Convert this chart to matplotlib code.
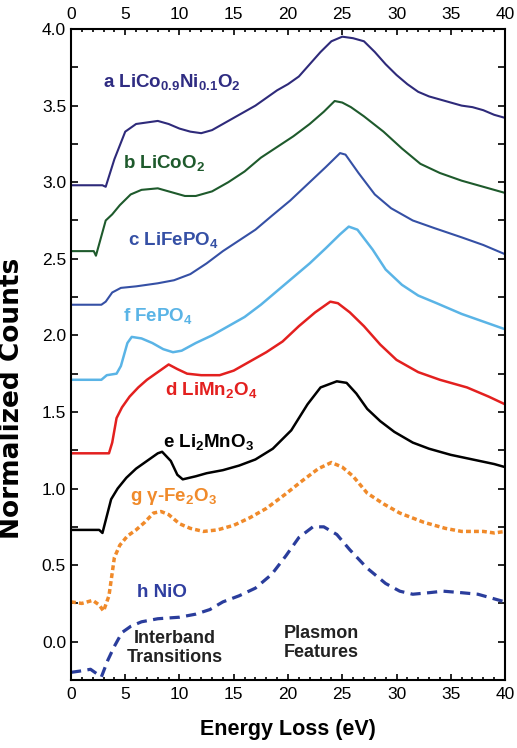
import numpy as np
import matplotlib
matplotlib.use('Agg')
from matplotlib import pyplot as plt
from matplotlib.ticker import MultipleLocator, FuncFormatter

plt.rcParams['font.family'] = ['Liberation Sans', 'DejaVu Sans']
plt.rcParams['mathtext.fontset'] = 'custom'
plt.rcParams['mathtext.rm'] = 'Liberation Sans'
plt.rcParams['mathtext.bf'] = 'Liberation Sans:bold'

# a LiCo0.9Ni0.1O2
a_x = [0, 2.9, 3.2, 4, 5, 6, 7, 8, 9, 10, 11, 12, 13, 14, 15, 16, 17, 18, 19, 20,
       21, 22, 23, 24, 25, 26, 27, 28, 29, 30, 31, 32, 33, 34, 35, 36, 37, 38, 39, 40]
a_y = [2.98, 2.98, 2.97, 3.15, 3.33, 3.38, 3.39, 3.40, 3.38, 3.35, 3.33, 3.32, 3.34, 3.38, 3.42, 3.46, 3.50, 3.55, 3.60, 3.64,
       3.69, 3.77, 3.85, 3.92, 3.95, 3.94, 3.92, 3.85, 3.77, 3.70, 3.64, 3.59, 3.56, 3.54, 3.52, 3.50, 3.49, 3.47, 3.44, 3.42]
# b LiCoO2
b_x = [0, 2.1, 2.3, 3.2, 3.8, 4.5, 5.5, 6.5, 8, 9, 10.5, 11.5, 13, 14.5, 16, 17.5, 19, 20.5, 22, 23.3,
       24.3, 25, 25.8, 27, 28.8, 30.5, 32.2, 34, 36, 38, 40]
b_y = [2.55, 2.55, 2.52, 2.75, 2.79, 2.85, 2.92, 2.95, 2.96, 2.94, 2.91, 2.91, 2.94, 3.00, 3.07, 3.16, 3.23, 3.30, 3.38, 3.46,
       3.53, 3.52, 3.49, 3.43, 3.33, 3.22, 3.12, 3.06, 3.01, 2.97, 2.93]
# c LiFePO4
c_x = [0, 2.8, 3.2, 3.8, 4.6, 6, 8, 9.5, 11, 12.5, 14, 15.5, 17, 18.5, 20.2, 22, 23.5, 24.8, 25.3,
       26.5, 28, 29.5, 31.5, 33.5, 36, 38, 40]
c_y = [2.20, 2.20, 2.22, 2.28, 2.31, 2.32, 2.34, 2.36, 2.40, 2.47, 2.55, 2.62, 2.69, 2.78, 2.88, 3.00, 3.10, 3.19, 3.18,
       3.06, 2.92, 2.83, 2.75, 2.70, 2.64, 2.59, 2.53]
# f FePO4
f_x = [0, 2.8, 3.3, 4.2, 4.6, 5.2, 5.6, 6.5, 7.5, 8.5, 9.4, 10.2, 11.5, 13, 14.5, 16, 17.5, 19, 20.5, 22,
       23.5, 24.8, 25.6, 26.4, 27.8, 29, 30.5, 32, 33.7, 36, 38, 40]
f_y = [1.71, 1.71, 1.74, 1.75, 1.80, 1.95, 1.99, 1.98, 1.95, 1.91, 1.89, 1.90, 1.95, 2.00, 2.06, 2.12, 2.20, 2.29, 2.38, 2.47,
       2.57, 2.66, 2.71, 2.69, 2.56, 2.43, 2.33, 2.26, 2.21, 2.14, 2.09, 2.04]
# d LiMn2O4
d_x = [0, 3.5, 3.8, 4.2, 4.7, 5.4, 6.2, 7.0, 8.2, 9.0, 9.8, 10.7, 12, 13.7, 15, 16.5, 18, 19.5, 21, 22.5,
       23.9, 24.6, 25.7, 27, 28.5, 30, 32, 34, 36.5, 38.5, 40]
d_y = [1.23, 1.23, 1.30, 1.46, 1.53, 1.60, 1.66, 1.71, 1.77, 1.81, 1.78, 1.75, 1.74, 1.74, 1.77, 1.83, 1.89, 1.96, 2.06, 2.15,
       2.22, 2.21, 2.15, 2.06, 1.94, 1.84, 1.76, 1.71, 1.66, 1.60, 1.55]
# e Li2MnO3
e_x = [0, 2.6, 2.9, 3.3, 3.7, 4.3, 5.1, 6, 6.8, 8, 8.4, 9.2, 9.8, 10.3, 11.5, 12.5, 14, 15.5, 17, 18.6,
       20.3, 21.8, 23, 24.5, 25.4, 26.3, 27.3, 28.5, 29.8, 31.5, 33, 35, 37, 39, 40]
e_y = [0.73, 0.73, 0.71, 0.82, 0.93, 1.00, 1.07, 1.13, 1.17, 1.23, 1.24, 1.18, 1.09, 1.06, 1.08, 1.10, 1.12, 1.15, 1.19, 1.26,
       1.38, 1.55, 1.66, 1.70, 1.69, 1.62, 1.52, 1.44, 1.37, 1.30, 1.26, 1.22, 1.19, 1.16, 1.14]
# g gamma-Fe2O3
g_x = [0, 1, 2, 2.6, 3.0, 3.5, 4.0, 4.5, 5.2, 6, 6.8, 7.6, 8.3, 9, 10, 11, 12.2, 13.5, 15, 16.5,
       18, 19.7, 21.3, 22.8, 24, 25, 26, 27.3, 28.8, 30.3, 32.5, 34.5, 36, 38, 39, 40]
g_y = [0.26, 0.25, 0.27, 0.24, 0.20, 0.30, 0.55, 0.63, 0.69, 0.73, 0.78, 0.84, 0.85, 0.83, 0.77, 0.74, 0.72, 0.73, 0.76, 0.81,
       0.87, 0.96, 1.05, 1.13, 1.17, 1.14, 1.08, 0.97, 0.90, 0.84, 0.78, 0.74, 0.72, 0.72, 0.71, 0.72]
# h NiO
h_x = [0, 1, 1.8, 2.8, 3.4, 4.0, 4.7, 5.5, 6.5, 8, 10, 11.5, 12.8, 14, 15.5, 17, 18.5, 19.8, 21, 22.3,
       23.3, 24.5, 25.7, 27.3, 29, 30.3, 31.5, 33, 34.3, 36, 37.5, 39, 40]
h_y = [-0.20, -0.19, -0.18, -0.23, -0.12, -0.03, 0.06, 0.10, 0.13, 0.15, 0.16, 0.18, 0.21, 0.26, 0.30, 0.35, 0.44, 0.56, 0.68, 0.75,
       0.75, 0.70, 0.60, 0.48, 0.38, 0.33, 0.31, 0.32, 0.33, 0.32, 0.31, 0.28, 0.26]

fig = plt.figure(figsize=(5.17, 7.48), dpi=100)
ax = fig.add_axes([0.1373, 0.0909, 0.8395, 0.8703])

ax.plot(a_x, a_y, color='#2e2a7a', lw=1.5)
ax.plot(b_x, b_y, color='#1e5a2c', lw=1.5)
ax.plot(c_x, c_y, color='#3550a5', lw=1.5)
ax.plot(f_x, f_y, color='#5ab4e6', lw=1.8)
ax.plot(d_x, d_y, color='#e3201f', lw=1.8)
ax.plot(e_x, e_y, color='black', lw=1.8)
ax.plot(g_x, g_y, color='#f08a2a', lw=2.5, linestyle=(0, (1.4, 0.9)))
ax.plot(h_x, h_y, color='#2a3d9c', lw=2.3, linestyle=(0, (3.2, 2.0)))

lab = dict(fontsize=13.5, fontweight='bold', va='center', ha='left')
ax.text(2.95, 3.65, r'a LiCo$_{\mathbf{0.9}}$Ni$_{\mathbf{0.1}}$O$_{\mathbf{2}}$', color='#2f2c82', **lab)
ax.text(4.8, 3.12, r'b LiCoO$_{\mathbf{2}}$', color='#1e5a2c', **lab)
ax.text(5.3, 2.62, r'c LiFePO$_{\mathbf{4}}$', color='#3550a5', **lab)
ax.text(4.8, 2.12, r'f FePO$_{\mathbf{4}}$', color='#5ab4e6', **lab)
ax.text(8.7, 1.64, r'd LiMn$_{\mathbf{2}}$O$_{\mathbf{4}}$', color='#e3201f', **lab)
ax.text(8.5, 1.30, r'e Li$_{\mathbf{2}}$MnO$_{\mathbf{3}}$', color='black', **lab)
ax.text(5.4, 0.95, r'g γ-Fe$_{\mathbf{2}}$O$_{\mathbf{3}}$', color='#f08a2a', **lab)
ax.text(6.1, 0.32, 'h NiO', color='#2f3ea0', **lab)
ax.text(9.6, -0.04, 'Interband\nTransitions', fontsize=13, fontweight='bold',
        ha='center', va='center', color='#222222', linespacing=1.15)
ax.text(19.6, -0.01, 'Plasmon\nFeatures', fontsize=13, fontweight='bold',
        ha='left', va='center', color='#222222', linespacing=1.15)

ax.set_xlim(0, 40)
ax.set_ylim(-0.25, 4.0)
ax.xaxis.set_major_locator(MultipleLocator(5))
ax.xaxis.set_minor_locator(MultipleLocator(1))
ax.yaxis.set_major_locator(MultipleLocator(0.25))
ax.yaxis.set_major_formatter(FuncFormatter(lambda v, p: f'{v:.1f}' if abs(v * 2 - round(v * 2)) < 1e-6 else ''))
ax.tick_params(which='both', direction='in', top=True, right=True, labeltop=True, labelsize=12.5, width=1.2)
ax.tick_params(axis='x', which='major', length=4, pad=5)
ax.tick_params(axis='x', which='minor', length=2.5)
ax.tick_params(axis='y', which='major', length=5)
for s in ax.spines.values():
    s.set_linewidth(1.5)

ax.set_xlabel('Energy Loss (eV)', fontsize=15.5, fontweight='bold', labelpad=12)
ax.set_ylabel('Normalized Counts', fontsize=19, fontweight='bold',
              family='DejaVu Sans', va='center')
ax.yaxis.set_label_coords(-0.135, 0.433)

fig.savefig('out.png', dpi=100)
